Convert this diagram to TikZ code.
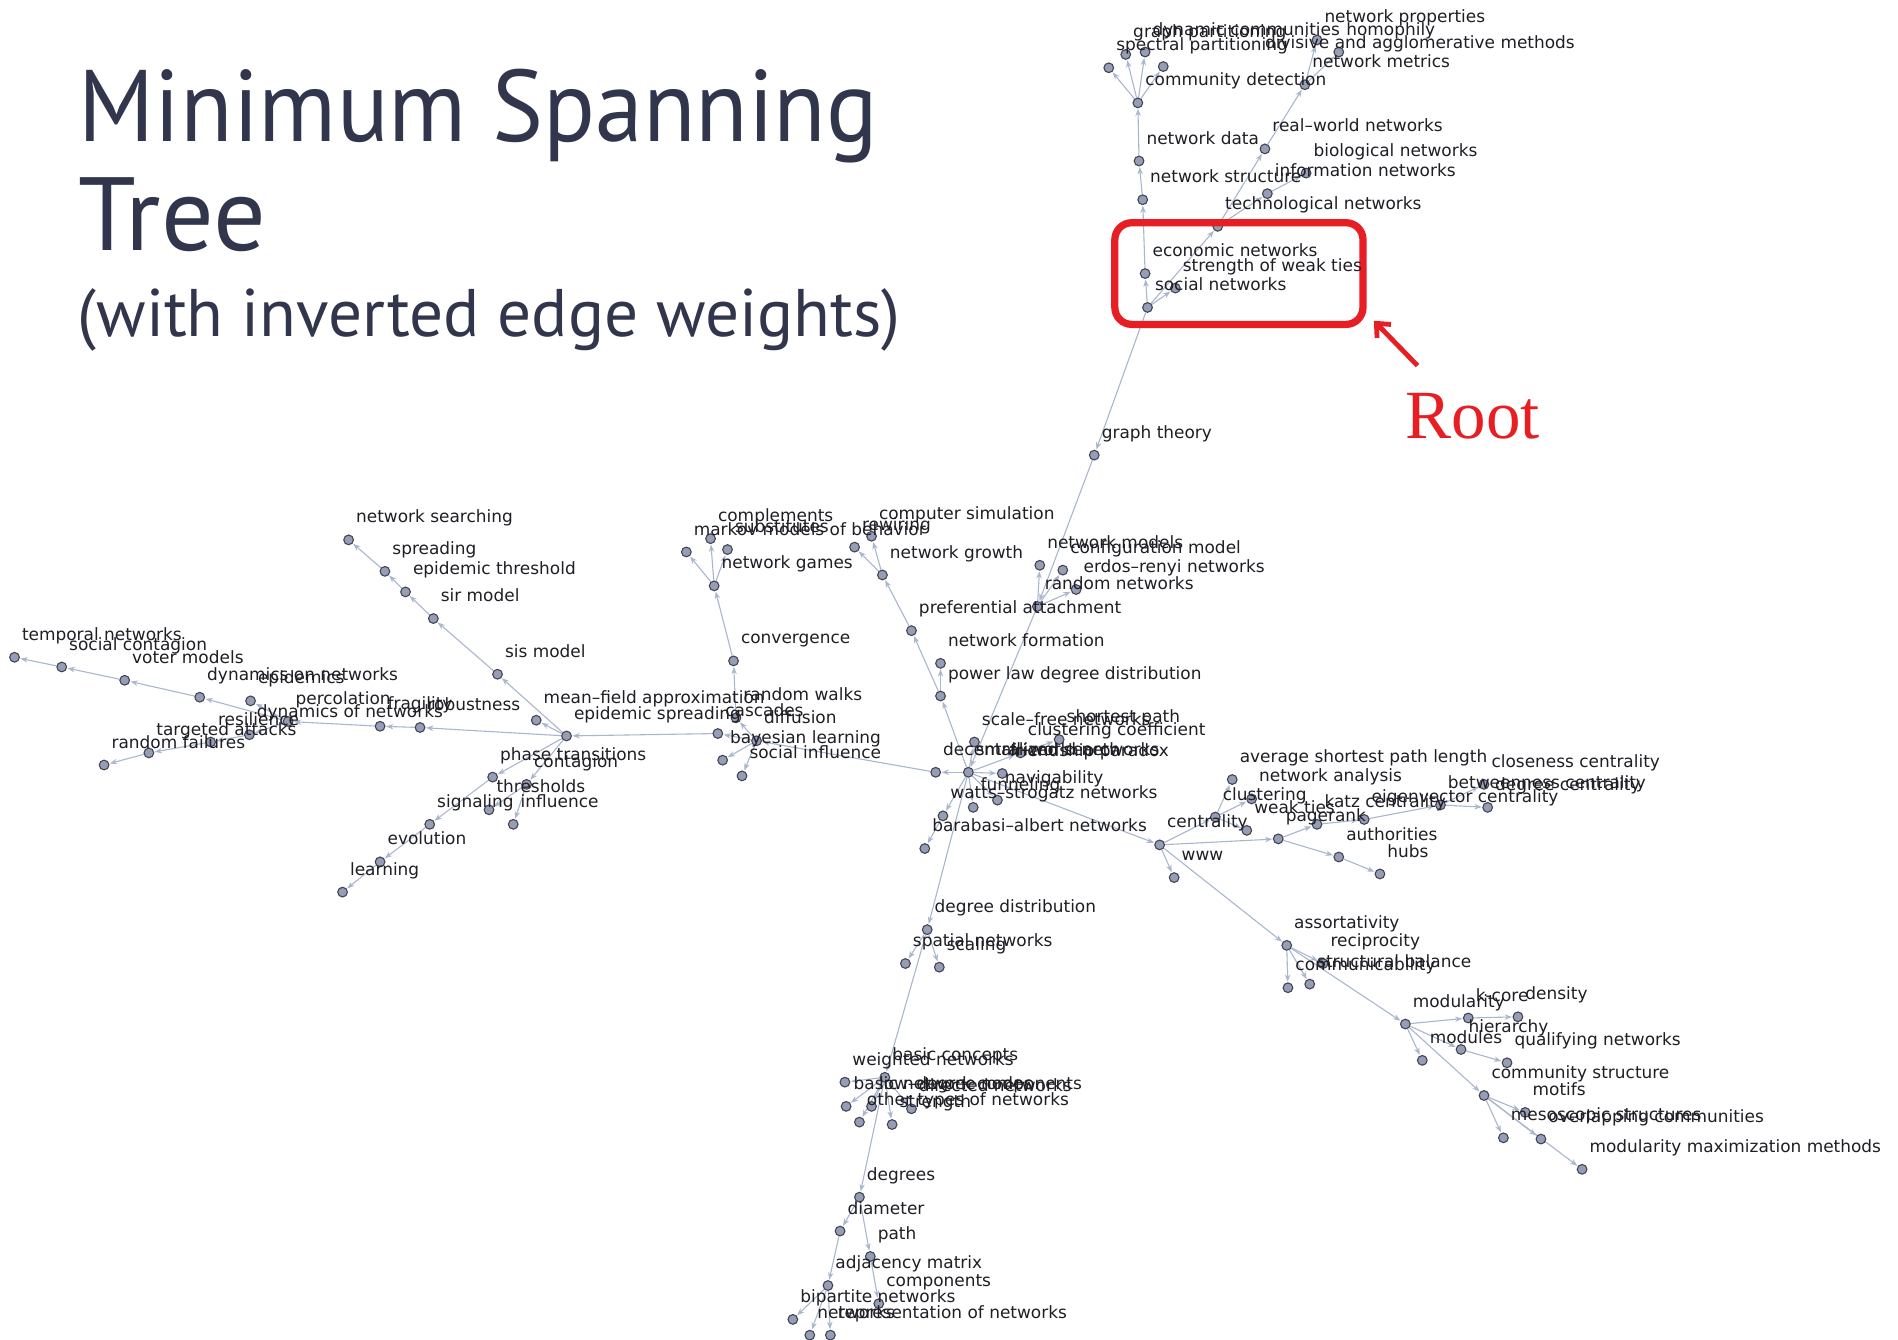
\documentclass[tikz,border=0pt]{standalone}
\usepackage{fontspec}
\usetikzlibrary{arrows.meta}
\newfontfamily\lblfont{DejaVu Sans}
\newfontfamily\titlefont[FakeStretch=0.945]{PT Sans}
\newfontfamily\subtitlefont{PT Sans}
\newfontfamily\rootfont{Liberation Serif}
\definecolor{titlecol}{RGB}{50,54,76}
\definecolor{rootred}{RGB}{232,30,37}
\definecolor{edgecol}{RGB}{168,182,206}
\definecolor{vfill}{RGB}{150,158,182}
\definecolor{vline}{RGB}{66,68,82}
\definecolor{lbltext}{RGB}{30,30,36}
\pgfdeclarelayer{background}
\pgfdeclarelayer{foreground}
\pgfsetlayers{background,main,foreground}
\tikzset{
  vert/.style={circle, inner sep=0pt, minimum size=8pt, fill=vfill, draw=vline, line width=0.9pt},
  lbl/.style={inner sep=0pt, anchor=base west, font=\lblfont\fontsize{14}{14}\selectfont, text=lbltext},
  edge/.style={draw=edgecol, line width=0.9pt, -{Stealth[length=6pt,width=4.5pt]}, shorten >=0.5pt},
  titletext/.style={inner sep=0pt, anchor=base west, text=titlecol},
}
% vertex with its name label set above right
\newcommand\vtx[4]{\node[vert] (#1) at (#2,#3) {};
  \begin{pgfonlayer}{foreground}\node[lbl] (#1-l) at (#2+6,#3-14) {#4};\end{pgfonlayer}}
\begin{document}
\begin{tikzpicture}[x=1pt,y=-1pt]
\useasboundingbox (0,0) rectangle (1568,1107);
\begin{pgfonlayer}{background}
\fill[white] (0,0) rectangle (1568,1107);
\end{pgfonlayer}

% title
\node[titletext, font=\titlefont\fontsize{84}{84}\selectfont] (t1) at (65,117) {Minimum Spanning};
\node[titletext, font=\subtitlefont\fontsize{86}{86}\selectfont] (t2) at (65,207) {Tree};
\node[titletext, font=\subtitlefont\fontsize{55.6}{55.6}\selectfont] (t3) at (64,278) {(with inverted edge weights)};

% upper branch
\vtx{soc}{948}{254}{social networks}
\vtx{eco}{946}{226}{economic networks}
\vtx{sow}{971}{238}{strength of weak ties}
\vtx{tec}{1006}{187}{technological networks}
\vtx{inf}{1047}{160}{information networks}
\vtx{bio}{1079}{143}{biological networks}
\vtx{rwn}{1045}{123}{real–world networks}
\vtx{met}{1078}{70}{network metrics}
\vtx{npr}{1088}{33}{network properties}
\vtx{hom}{1106}{43}{homophily}
\vtx{str}{944}{165}{network structure}
\vtx{dat}{941}{133}{network data}
\vtx{cdt}{940}{85}{community detection}
\vtx{spp}{916}{56}{spectral partitioning}
\vtx{grp}{930}{45}{graph partitioning}
\vtx{dyc}{946}{43}{dynamic communities}
\node[vert] (div) at (961,55) {};
\begin{pgfonlayer}{foreground}\node[lbl] (div-l) at (1045,40) {divisive and agglomerative methods};\end{pgfonlayer}
\vtx{gth}{904}{376}{graph theory}

% centre
\vtx{hub}{800}{638}{small–world networks}
\vtx{dcs}{773}{638}{decentralized search}
\vtx{sfn}{805}{613}{scale–free networks}
\vtx{clc}{843}{622}{clustering coefficient}
\vtx{shp}{875}{611}{shortest path}
\vtx{frp}{828}{639}{friendship paradox}
\vtx{nav}{824}{661}{navigability}
\vtx{fun}{804}{667}{funneling}
\vtx{wsn}{779}{674}{watts–strogatz networks}
\vtx{ban}{764}{701}{barabasi–albert networks}
\vtx{rnd}{857}{501}{random networks}
\vtx{nmo}{859}{467}{network models}
\vtx{cfg}{878}{471}{configuration model}
\vtx{ern}{889}{487}{erdos–renyi networks}
\vtx{pld}{777}{575}{power law degree distribution}
\vtx{nfo}{777}{548}{network formation}
\vtx{pat}{753}{521}{preferential attachment}
\vtx{ngr}{729}{475}{network growth}
\vtx{rew}{706}{452}{rewiring}
\vtx{csi}{720}{443}{computer simulation}

% middle left
\vtx{dif}{625}{612}{diffusion}
\vtx{cas}{593}{606}{cascades}
\vtx{bay}{597}{628}{bayesian learning}
\vtx{sin}{613}{641}{social influence}
\vtx{rwk}{608}{593}{random walks}
\vtx{cnv}{606}{546}{convergence}
\vtx{nga}{590}{484}{network games}
\vtx{mmb}{567}{456}{markov models of behavior}
\vtx{cpl}{587}{445}{complements}
\vtx{sub}{601}{454}{substitutes}

% left
\vtx{eps}{468}{608}{epidemic spreading}
\vtx{mfa}{443}{595}{mean–field approximation}
\vtx{sis}{411}{557}{sis model}
\vtx{sir}{358}{511}{sir model}
\vtx{ept}{335}{489}{epidemic threshold}
\vtx{spr}{318}{472}{spreading}
\vtx{nse}{288}{446}{network searching}
\vtx{rob}{347}{601}{robustness}
\vtx{fra}{314}{600}{fragility}
\vtx{per}{238}{596}{percolation}
\vtx{epi}{207}{579}{epidemics}
\vtx{don}{165}{576}{dynamics on networks}
\vtx{vot}{103}{562}{voter models}
\vtx{sco}{51}{551}{social contagion}
\vtx{tem}{12}{543}{temporal networks}
\vtx{dof}{206}{607}{dynamics of networks}
\vtx{res}{174}{613}{resilience}
\vtx{tat}{123}{622}{targeted attacks}
\vtx{rfa}{86}{632}{random failures}
\vtx{pht}{407}{642}{phase transitions}
\vtx{con}{435}{648}{contagion}
\vtx{thr}{404}{669}{thresholds}
\vtx{inl}{424}{681}{influence}
\vtx{sig}{355}{681}{signaling}
\vtx{evo}{314}{712}{evolution}
\vtx{lea}{283}{737}{learning}

% right
\vtx{cen}{958}{698}{centrality}
\vtx{www}{970}{725}{www}
\vtx{clu}{1004}{675}{clustering}
\vtx{asp}{1018}{644}{average shortest path length}
\vtx{nan}{1034}{660}{network analysis}
\vtx{wti}{1030}{686}{weak ties}
\vtx{pgr}{1056}{693}{pagerank}
\vtx{kat}{1088}{681}{katz centrality}
\vtx{eig}{1127}{677}{eigenvector centrality}
\vtx{btw}{1190}{665}{betweenness centrality}
\vtx{dgc}{1229}{667}{degree centrality}
\vtx{clo}{1226}{648}{closeness centrality}
\vtx{aut}{1106}{708}{authorities}
\vtx{hbs}{1140}{722}{hubs}

% lower right
\vtx{ass}{1063}{781}{assortativity}
\vtx{rec}{1093}{796}{reciprocity}
\vtx{stb}{1082}{813}{structural balance}
\vtx{cmb}{1064}{816}{communicability}
\vtx{mod}{1161}{846}{modularity}
\vtx{kco}{1213}{841}{k-core}
\vtx{den}{1254}{840}{density}
\vtx{hie}{1207}{867}{hierarchy}
\vtx{mdl}{1175}{876}{modules}
\vtx{qua}{1245}{878}{qualifying networks}
\vtx{cst}{1226}{905}{community structure}
\vtx{mot}{1260}{919}{motifs}
\vtx{mes}{1242}{940}{mesoscopic structures}
\vtx{ovc}{1273}{941}{overlapping communities}
\vtx{mmm}{1307}{966}{modularity maximization methods}

% lower branch
\vtx{ddi}{766}{768}{degree distribution}
\vtx{spn}{748}{796}{spatial networks}
\vtx{sca}{776}{799}{scaling}
\vtx{bco}{731}{890}{basic concepts}
\vtx{wne}{698}{894}{weighted networks}
\vtx{bnc}{699}{914}{basic network components}
\vtx{ldn}{720}{914}{low–degree nodes}
\vtx{dir}{753}{916}{directed networks}
\vtx{otn}{710}{927}{other types of networks}
\vtx{stg}{737}{929}{strength}
\vtx{deg}{710}{989}{degrees}
\vtx{dia}{694}{1017}{diameter}
\vtx{pth}{719}{1038}{path}
\vtx{adj}{684}{1062}{adjacency matrix}
\vtx{cmp}{726}{1077}{components}
\vtx{bip}{655}{1090}{bipartite networks}
\vtx{net}{669}{1103}{networks}
\vtx{rep}{686}{1103}{representation of networks}

% tree edges
\begin{pgfonlayer}{background}
\foreach \a/\b in {soc/eco, soc/sow, soc/tec, soc/gth, eco/str, str/dat, dat/cdt,
  cdt/spp, cdt/grp, cdt/dyc, cdt/div, tec/inf, inf/bio, tec/rwn, rwn/met, met/npr, met/hom,
  gth/rnd, rnd/hub, rnd/nmo, rnd/cfg, rnd/ern,
  hub/sfn, hub/dcs, hub/clc, clc/shp, hub/frp, hub/nav, hub/fun, hub/wsn, wsn/ban,
  hub/pld, pld/nfo, pld/pat, pat/ngr, ngr/rew, ngr/csi, hub/cen, hub/ddi,
  dcs/dif, dif/cas, cas/eps, dif/bay, dif/sin, dif/rwk, rwk/cnv, cnv/nga, nga/mmb, nga/cpl, nga/sub,
  eps/mfa, eps/sis, sis/sir, sir/ept, ept/spr, spr/nse, eps/rob, rob/fra, fra/per,
  per/epi, per/don, don/vot, vot/sco, sco/tem, per/dof, dof/res, res/tat, tat/rfa,
  eps/pht, pht/sig, sig/evo, evo/lea, eps/con, con/thr, con/inl,
  cen/www, cen/clu, clu/asp, clu/nan, clu/wti, cen/pgr, pgr/kat, kat/eig, eig/btw, btw/dgc, btw/clo,
  pgr/aut, aut/hbs, cen/ass,
  ass/rec, ass/stb, ass/cmb, ass/mod, mod/kco, kco/den, mod/hie, hie/qua, mod/mdl, mod/cst,
  cst/mot, cst/mes, cst/ovc, cst/mmm,
  ddi/spn, ddi/sca, ddi/bco, bco/wne, bco/bnc, bco/ldn, bco/dir, bco/otn, bco/stg, bco/deg,
  deg/dia, deg/pth, dia/adj, adj/bip, adj/net, adj/rep, pth/cmp}
  \draw[edge] (\a) -- (\b);
\end{pgfonlayer}

% root marker
\node[draw=rootred, line width=6pt, rounded corners=14pt, minimum width=205pt, minimum height=84pt,
  inner sep=0pt, anchor=north west] (rootbox) at (918,181) {};
\node[inner sep=0pt, anchor=base west, text=rootred, font=\rootfont\fontsize{57}{57}\selectfont] (rootlbl) at (1161,362) {Root};
\coordinate (arrowtail) at (1171,302);
\coordinate (arrowtip) at (1135,265);
\draw[rootred, line width=4pt, -{Straight Barb[length=9pt,width=16pt]}] (arrowtail) -- (arrowtip);
\end{tikzpicture}
\end{document}
